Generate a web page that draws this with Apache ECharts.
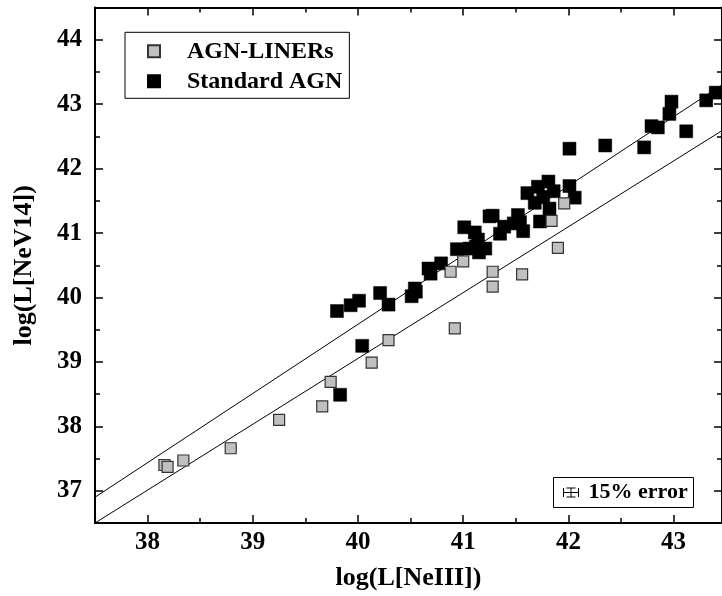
<!DOCTYPE html>
<html>
<head>
<meta charset="utf-8">
<title>log(L[NeV14]) vs log(L[NeIII])</title>
<script src="https://cdn.jsdelivr.net/npm/echarts@6/dist/echarts.min.js"></script>
<style>
  html, body { margin: 0; padding: 0; background: #fff; }
  #chart { width: 722px; height: 596px; }
</style>
</head>
<body>
<div id="chart"></div>
<script>
// AGN-LINERs: log L[NeIII] and log L[NeV14]
const linerX = [38.16, 38.19, 38.34, 38.79, 39.25, 39.66, 39.74, 40.13, 40.29, 40.88,
                40.92, 41.00, 41.28, 41.28, 41.56, 41.84, 41.90, 41.96];
const linerY = [37.40, 37.37, 37.47, 37.66, 38.10, 38.31, 38.69, 38.99, 39.34, 40.40,
                39.52, 40.56, 40.40, 40.17, 40.36, 41.19, 40.77, 41.46];

// Standard AGN
const agnX = [39.80, 39.83, 39.93, 40.01, 40.04, 40.21, 40.29, 40.51, 40.55, 40.54,
              40.67, 40.69, 40.79, 40.94, 41.01, 41.06, 41.11, 41.14, 41.12, 41.15,
              41.21, 41.25, 41.28, 41.35, 41.39, 41.48, 41.52, 41.54, 41.57, 41.61,
              41.68, 41.71, 41.73, 41.76, 41.81, 41.82, 41.86, 42.01, 42.01, 42.06,
              42.35, 42.72, 42.79, 42.85, 42.96, 42.98, 43.12, 43.31, 43.40];
const agnY = [39.79, 38.49, 39.88, 39.95, 39.25, 40.07, 39.89, 40.02, 40.09, 40.14,
              40.45, 40.37, 40.53, 40.75, 41.09, 40.76, 41.01, 40.90, 40.79, 40.70,
              40.76, 41.26, 41.27, 40.99, 41.10, 41.15, 41.28, 41.17, 41.03, 41.62,
              41.47, 41.72, 41.18, 41.56, 41.80, 41.38, 41.65, 42.31, 41.73, 41.55,
              42.36, 42.33, 42.66, 42.64, 42.85, 43.04, 42.58, 43.06, 43.18];

// Fitted relations (end points)
const upperFitX = [37.5, 43.46];
const upperFitY = [36.90, 43.30];
const lowerFitX = [37.5, 43.46];
const lowerFitY = [36.50, 42.59];

// Axis ranges and ticks
const xRange = [37.5, 43.46];
const yRange = [36.5, 44.5];
const xMajor = [38, 39, 40, 41, 42, 43];
const xMinor = [37.5, 38.5, 39.5, 40.5, 41.5, 42.5];
const yMajor = [37, 38, 39, 40, 41, 42, 43, 44];
const yMinor = [36.5, 37.5, 38.5, 39.5, 40.5, 41.5, 42.5, 43.5];

const seriesNames = ['AGN-LINERs', 'Standard AGN'];
const xTitle = 'log(L[NeIII])';
const yTitle = 'log(L[NeV14])';

const FONT = '"Liberation Serif", "Times New Roman", serif';
const pair = (xs, ys) => xs.map((x, i) => [x, ys[i]]);

function axis(kind, pos, ticks, len, withLine, withLabels) {
  const range = kind === 'x' ? xRange : yRange;
  return {
    type: 'value', position: pos, gridIndex: 0,
    min: range[0], max: range[1],
    axisLine: { show: withLine, onZero: false, lineStyle: { color: '#000', width: 2 } },
    axisTick: { show: true, inside: true, length: len, customValues: ticks,
                lineStyle: { color: '#000', width: 1.5 } },
    axisLabel: withLabels ? {
      show: true, customValues: ticks, margin: kind === 'x' ? 7 : 13,
      color: '#000', fontFamily: FONT, fontWeight: 'bold', fontSize: 25
    } : { show: false },
    splitLine: { show: false }
  };
}

const xAxes = [
  Object.assign(axis('x', 'bottom', xMajor, 8, true, true), {
    name: xTitle, nameLocation: 'middle', nameGap: 42,
    nameTextStyle: { color: '#000', fontFamily: FONT, fontWeight: 'bold', fontSize: 26 }
  }),
  axis('x', 'bottom', xMinor, 5, false, false),
  axis('x', 'top', xMajor, 8, true, false),
  axis('x', 'top', xMinor, 5, false, false)
];
const yAxes = [
  Object.assign(axis('y', 'left', yMajor, 8, true, true), {
    name: yTitle, nameLocation: 'middle', nameGap: 58,
    nameTextStyle: { color: '#000', fontFamily: FONT, fontWeight: 'bold', fontSize: 26 }
  }),
  axis('y', 'left', yMinor, 5, false, false),
  axis('y', 'right', yMajor, 8, true, false),
  axis('y', 'right', yMinor, 5, false, false)
];

const chart = echarts.init(document.getElementById('chart'), null, { renderer: 'canvas' });

chart.setOption({
  backgroundColor: '#fff',
  animation: false,
  grid: { left: 95, top: 7.6, width: 631, height: 516, containLabel: false },
  xAxis: xAxes,
  yAxis: yAxes,
  legend: {
    data: seriesNames,
    orient: 'vertical',
    left: 125, top: 32.3,
    padding: [6, 7, 4, 22],
    itemGap: 4,
    itemWidth: 12, itemHeight: 12,
    borderColor: '#000', borderWidth: 1,
    backgroundColor: '#fff',
    selectedMode: false,
    textStyle: {
      color: '#000', fontFamily: FONT, fontWeight: 'bold', fontSize: 24,
      lineHeight: 26, padding: [0, 0, 0, 22]
    }
  },
  series: [
    {
      name: 'fit-upper', type: 'line', silent: true, symbol: 'none',
      data: pair(upperFitX, upperFitY),
      lineStyle: { color: '#000', width: 1 }, z: 1
    },
    {
      name: 'fit-lower', type: 'line', silent: true, symbol: 'none',
      data: pair(lowerFitX, lowerFitY),
      lineStyle: { color: '#000', width: 1 }, z: 1
    },
    {
      name: seriesNames[1], type: 'scatter', symbol: 'rect', symbolSize: 13,
      data: pair(agnX, agnY),
      itemStyle: { color: '#000', borderColor: '#000', borderWidth: 0.5, opacity: 1 }, z: 3
    },
    {
      name: seriesNames[0], type: 'scatter', symbol: 'rect', symbolSize: 11,
      data: pair(linerX, linerY),
      itemStyle: { color: '#c0c0c0', borderColor: '#333', borderWidth: 1.2, opacity: 1 }, z: 4
    }
  ],
  graphic: [
    {
      type: 'group', left: 553, top: 477,
      children: [
        { type: 'rect', shape: { x: 0, y: 0, width: 140, height: 30 },
          style: { fill: '#fff', stroke: '#000', lineWidth: 1 } },
        // error-bar glyph
        { type: 'polyline', shape: { points: [[10, 15], [25, 15]] }, style: { stroke: '#000', lineWidth: 1 } },
        { type: 'polyline', shape: { points: [[10, 10.5], [10, 19.5]] }, style: { stroke: '#000', lineWidth: 1 } },
        { type: 'polyline', shape: { points: [[25, 10.5], [25, 19.5]] }, style: { stroke: '#000', lineWidth: 1 } },
        { type: 'polyline', shape: { points: [[17.5, 10.5], [17.5, 19.5]] }, style: { stroke: '#000', lineWidth: 1 } },
        { type: 'polyline', shape: { points: [[13, 10.5], [22, 10.5]] }, style: { stroke: '#000', lineWidth: 1 } },
        { type: 'polyline', shape: { points: [[13, 19.5], [22, 19.5]] }, style: { stroke: '#000', lineWidth: 1 } },
        { type: 'text', x: 35, y: 15,
          style: { text: '15% error', fill: '#000', font: 'bold 22px ' + FONT,
                   textAlign: 'left', textVerticalAlign: 'middle' } }
      ]
    }
  ]
});
</script>
</body>
</html>
